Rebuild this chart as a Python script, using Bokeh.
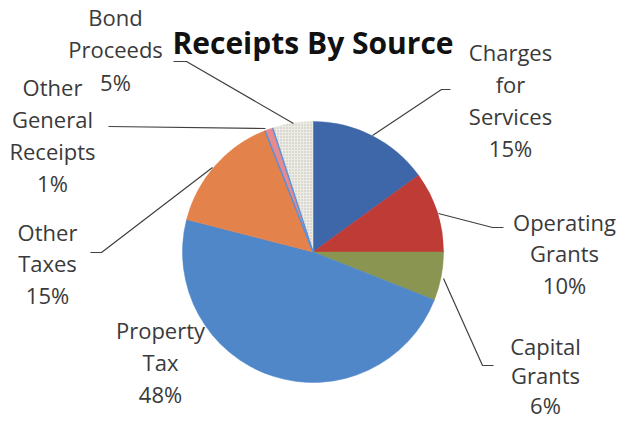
import numpy as np
from bokeh.plotting import figure
from bokeh.models import ColumnDataSource
from bokeh.core.properties import value
from bokeh.embed import file_html
from bokeh.resources import INLINE

# ---- data ----
categories = ["Charges for Services", "Operating Grants", "Capital Grants",
              "Property Tax", "Other Taxes", "Other General Receipts", "Bond Proceeds"]
percents = [15, 10, 6, 48, 15, 1, 5]
label_words = [["Charges", "for", "Services"], ["Operating", "Grants"], ["Capital", "Grants"],
               ["Property", "Tax"], ["Other", "Taxes"], ["Other", "General", "Receipts"],
               ["Bond", "Proceeds"]]
title_text = "Receipts By Source"

# ---- styles / layout ----
colors = ["#3d67a9", "#be3b36", "#8a9552", "#4f87c9", "#e4824c", "#e58a8e", "#ecece4"]
W, H = 621, 423
CX, CY, R = 312.5, 251.5, 130.5          # pixel coordinates (y down)
TEXT_SHIFT = 11                           # renderer baseline correction
# first-line baseline anchor and line gap for each label (pixel coords, y down)
label_anchor = [(510, 62), (564, 232), (545, 356), (160, 340), (47, 242), (52, 97), (115, 27)]
label_gap = [32, 31.5, 29.5, 32, 31.5, 32, 32.5]
# leader polylines (pixel coords, y down)
leaders = [
    [(450, 89), (441, 89), (372, 135)],
    [(503, 227), (492, 227), (438, 213)],
    [(493, 365), (482, 365), (443, 278)],
    None,
    [(90, 252), (101, 252), (212, 167)],
    [(108, 126), (265, 128)],
    [(173, 61), (186, 61), (293, 123)],
]

def fy(y):
    return H - y

p = figure(width=W, height=H, x_range=(0, W), y_range=(0, H),
           output_backend="svg", toolbar_location=None, min_border=0,
           x_axis_location=None, y_axis_location=None)
p.grid.visible = False
p.outline_line_color = None
p.background_fill_color = "white"
p.border_fill_color = "white"

frac = np.array(percents, dtype=float) / sum(percents)
cum = np.concatenate([[0], np.cumsum(frac)])
starts = np.pi / 2 - 2 * np.pi * cum[1:]
ends = np.pi / 2 - 2 * np.pi * cum[:-1]

src = ColumnDataSource(dict(start=starts, end=ends, color=colors, cat=categories))
p.wedge(x=CX, y=fy(CY), radius=R, start_angle="start", end_angle="end",
        fill_color="color", line_color="color", line_width=0.5, source=src)

# bond proceeds speckle texture
bi = categories.index("Bond Proceeds")
p.wedge(x=CX, y=fy(CY), radius=R, start_angle=starts[bi], end_angle=ends[bi],
        fill_alpha=0, line_color=None, hatch_pattern="dot", hatch_color="#9a9a92",
        hatch_scale=3, hatch_alpha=0.6)
# thin blue edges of the tiny slice
oi = categories.index("Other General Receipts")
for a in (starts[oi], ends[oi]):
    p.segment(x0=CX, y0=fy(CY), x1=CX + R * np.cos(a), y1=fy(CY) + R * np.sin(a),
              line_color="#5b8fd6", line_width=1.5)

# leader lines
xs, ys = [], []
for ld in leaders:
    if ld is None:
        continue
    xs.append([pt[0] for pt in ld])
    ys.append([fy(pt[1]) for pt in ld])
p.multi_line(xs=xs, ys=ys, line_color="#404040", line_width=1.2)

# labels
tx, ty, tt = [], [], []
for words, pct, (ax, ay), gap in zip(label_words, percents, label_anchor, label_gap):
    lines = words + [f"{pct}%"]
    for k, ln in enumerate(lines):
        tx.append(ax)
        ty.append(fy(ay + k * gap - TEXT_SHIFT))
        tt.append(ln)
p.text(x=tx, y=ty, text=tt, text_align="center", text_baseline="alphabetic",
       text_font=value("Open Sans"), text_font_size="22px", text_color="#3a3a3a")

# title
p.text(x=[312.5], y=[fy(53 - TEXT_SHIFT)], text=[title_text], text_align="center",
       text_baseline="alphabetic", text_font=value("Open Sans"),
       text_font_size="30px", text_font_style="bold", text_color="#111111")

open("out.html", "w").write(file_html(p, INLINE))
